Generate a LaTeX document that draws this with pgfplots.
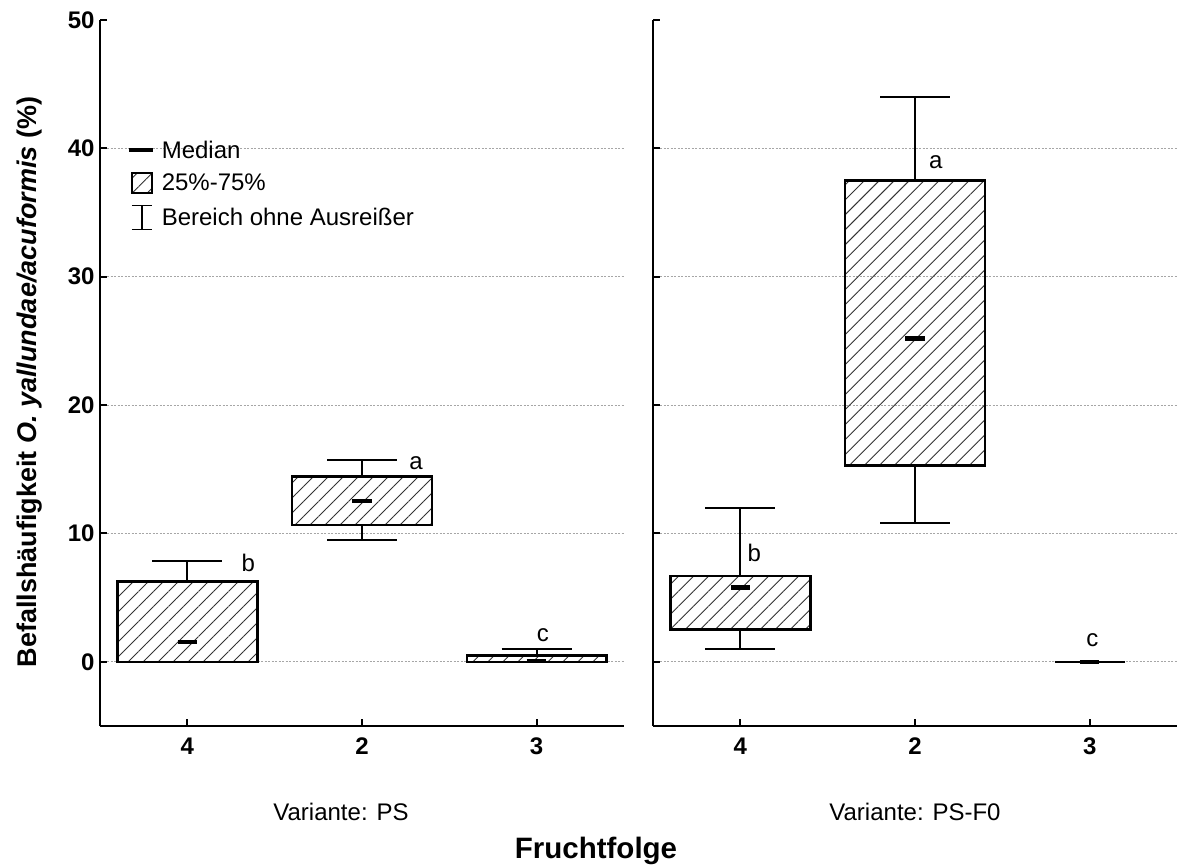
\documentclass[border=0pt]{standalone}
\usepackage{fontspec}
\setmainfont{Liberation Sans}
\usepackage{pgfplots}
\pgfplotsset{compat=1.18}
\usepgfplotslibrary{statistics}
\usetikzlibrary{patterns.meta}

\newcommand{\fs}[1]{\fontsize{#1}{#1}\selectfont}
\tikzset{lab/.style={font=\fs{24}, anchor=base west, inner sep=0pt}}

\pgfplotsset{
  panel/.style={
    width=524pt, height=706pt, scale only axis,
    xmin=0.5, xmax=3.5, ymin=-5, ymax=50,
    axis x line*=bottom, axis y line*=left,
    axis line style={line width=2pt, -},
    xtick={1,2,3}, xticklabels={4,2,3},
    ytick={0,10,20,30,40}, extra y ticks={50},
    extra y tick style={grid=none},
    ymajorgrids,
    grid style={dash pattern=on 2pt off 1.5pt, black!35, line width=0.8pt},
    tick align=inside, major tick length=7pt,
    tick style={line width=2pt, black},
    /pgf/number format/assume math mode=true,
    ticklabel style={font=\bfseries\fs{24}},
    xticklabel style={yshift=-8pt},
    yticklabel style={xshift=-2pt},
    boxplot/draw direction=y,
    boxplot/box extend=0.8,
    boxplot/whisker extend=0.4,
    boxplot/every box/.style={draw=black, line width=2.6pt,
      pattern={Lines[angle=45,distance=10.6pt,line width=0.9pt]}, pattern color=black!80},
    boxplot/every whisker/.style={black, line width=1.7pt},
    boxplot/draw/median/.code={%
      \draw[line width=4.5pt, black]
        (boxplot box cs:\pgfplotsboxplotvalue{median},0.43) --
        (boxplot box cs:\pgfplotsboxplotvalue{median},0.57);},
  },
}

\begin{document}
\begin{tikzpicture}
\path[use as bounding box] (0,0) rectangle (1177pt,-865pt);

% ---------- Left panel: Variante PS ----------
\begin{axis}[panel, at={(100pt,-726pt)}, anchor=south west,
  legend style={at={(0.045,0.835)}, anchor=north west, draw=none, fill=none,
    font=\fs{24}, row sep=10.5pt, nodes={inner sep=2pt}},
  legend cell align=left,
  legend entries={Median, 25\%-75\%, Bereich ohne Ausreißer},
]
\addlegendimage{legend image code/.code={\path[draw=none] (0pt,0pt) -- (31pt,0pt);
    \draw[line width=4pt] (0pt,0pt) -- (24pt,0pt);}}
\addlegendimage{legend image code/.code={\path[draw=none] (0pt,0pt) -- (31pt,0pt);
    \draw[line width=2.2pt,
    pattern={Lines[angle=45,distance=10.6pt,line width=0.9pt]}, pattern color=black!80]
    (3pt,-10pt) rectangle (23pt,10pt);}}
\addlegendimage{legend image code/.code={\path[draw=none] (0pt,0pt) -- (31pt,0pt);
    \draw[line width=1.5pt]
    (3pt,-12pt) -- (23pt,-12pt) (13pt,-12pt) -- (13pt,12pt) (3pt,12pt) -- (23pt,12pt);}}

\addplot[boxplot prepared={draw position=1, lower whisker=0, lower quartile=0,
  median=1.56, upper quartile=6.25, upper whisker=7.87}] coordinates {};
\addplot[boxplot prepared={draw position=2, lower whisker=9.5, lower quartile=10.67,
  median=12.54, upper quartile=14.43, upper whisker=15.73}] coordinates {};
\addplot[boxplot prepared={draw position=3, lower whisker=0, lower quartile=0,
  median=0.05, upper quartile=0.47, upper whisker=1.0}] coordinates {};

\node[lab] at (axis cs:1.31,7.0) {b};
\node[lab] at (axis cs:2.27,15.0) {a};
\node[lab] at (axis cs:3.00,1.56) {c};
\end{axis}

% ---------- Right panel: Variante PS-F0 ----------
\begin{axis}[panel, at={(653pt,-726pt)}, anchor=south west,
  yticklabels={\relax,\relax,\relax,\relax,\relax}, extra y tick labels={\relax},
]
\addplot[boxplot prepared={draw position=1, lower whisker=1.0, lower quartile=2.5,
  median=5.8, upper quartile=6.7, upper whisker=12.0}] coordinates {};
\addplot[boxplot prepared={draw position=2, lower whisker=10.8, lower quartile=15.3,
  median=25.2, upper quartile=37.5, upper whisker=44.0}] coordinates {};
\addplot[boxplot/draw/box/.code={}, boxplot prepared={draw position=3, lower whisker=0, lower quartile=0,
  median=0, upper quartile=0, upper whisker=0}] coordinates {};

\node[lab] at (axis cs:1.04,7.8) {b};
\node[lab] at (axis cs:2.08,38.4) {a};
\node[lab] at (axis cs:2.98,1.2) {c};
\end{axis}

% ---------- Texts ----------
\node[rotate=90, font=\bfseries\fs{27}] at (30pt,-382pt)
  {Befallshäufigkeit \textit{O. yallundae/acuformis} (\%)};
\node[font=\fs{24}] at (341pt,-812pt) {Variante: PS};
\node[font=\fs{24}] at (915pt,-812pt) {Variante: PS-F0};
\node[font=\bfseries\fs{29.5}, anchor=base, inner sep=0pt] at (596pt,-858pt) {Fruchtfolge};
\end{tikzpicture}
\end{document}
